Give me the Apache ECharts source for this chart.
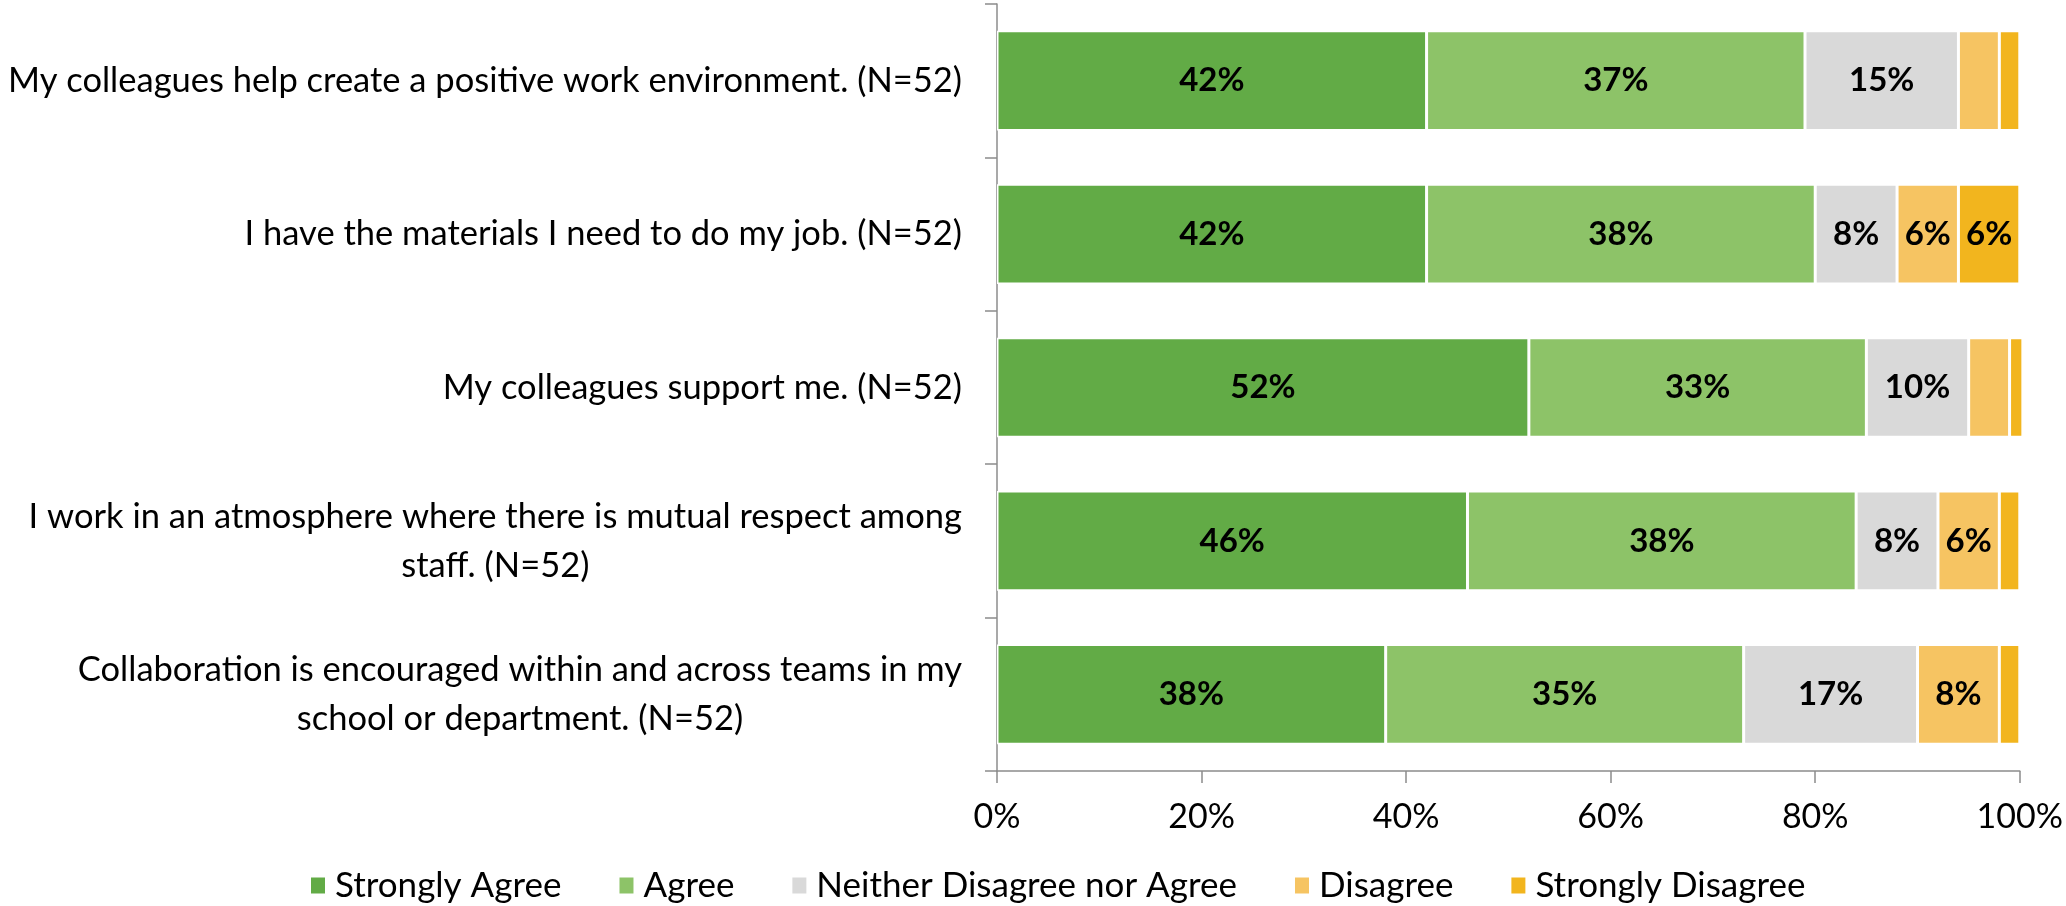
<!DOCTYPE html>
<html>
<head>
<meta charset="utf-8">
<script src="https://cdn.jsdelivr.net/npm/echarts@6/dist/echarts.min.js"></script>
<style>
html,body{margin:0;padding:0;background:#fff;}
#chart{width:2066px;height:906px;}
</style>
</head>
<body>
<div id="chart"></div>
<script>
const categories = [
  "My colleagues help create a positive work environment. (N=52)",
  "I have the materials I need to do my job. (N=52)",
  "My colleagues support me. (N=52)",
  "I work in an atmosphere where there is mutual respect among\nstaff. (N=52)",
  "Collaboration is encouraged within and across teams in my\nschool or department. (N=52)"
];
const seriesNames = ["Strongly Agree", "Agree", "Neither Disagree nor Agree", "Disagree", "Strongly Disagree"];
const stronglyAgree = [42, 42, 52, 46, 38];
const agree = [37, 38, 33, 38, 35];
const neither = [15, 8, 10, 8, 17];
const disagree = [4, 6, 4, 6, 8];
const stronglyDisagree = [2, 6, 1.3, 2, 2];
const xTicks = [0, 20, 40, 60, 80, 100];

const colors = ["#62AB46", "#8DC368", "#D9D9D9", "#F6C462", "#F2B51E"];
const values = [stronglyAgree, agree, neither, disagree, stronglyDisagree];
const FONT = "Lato, 'Open Sans', sans-serif";
const axisColor = "#8C8C8C";

const chart = echarts.init(document.getElementById('chart'));
chart.setOption({
  animation: false,
  color: colors,
  textStyle: { fontFamily: FONT },
  grid: { left: 997, right: 42, top: 4, bottom: 135, containLabel: false },
  legend: {
    data: seriesNames,
    top: 863,
    left: 304,
    icon: 'rect',
    itemWidth: 16,
    itemHeight: 18,
    itemGap: 56,
    textStyle: { fontFamily: FONT, fontSize: 35, color: '#000', padding: [0, 0, 0, 4] }
  },
  xAxis: {
    type: 'value',
    min: xTicks[0],
    max: xTicks[xTicks.length - 1],
    interval: xTicks[1] - xTicks[0],
    splitLine: { show: false },
    axisLine: { show: true, lineStyle: { color: axisColor, width: 1.5 } },
    axisTick: { show: true, length: 12, lineStyle: { color: axisColor, width: 1.5 } },
    axisLabel: { formatter: '{value}%', fontFamily: FONT, fontSize: 34, color: '#000', margin: 29 }
  },
  yAxis: {
    type: 'category',
    data: categories,
    inverse: true,
    axisLine: { show: true, lineStyle: { color: axisColor, width: 1.5 } },
    axisTick: { show: true, length: 12, lineStyle: { color: axisColor, width: 1.5 } },
    axisLabel: {
      margin: 35,
      color: '#000',
      formatter: function (v) {
        return v.split('\n').map(l => '{c|' + l + '}').join('\n');
      },
      rich: { c: { fontFamily: FONT, fontSize: 34.5, color: '#000', lineHeight: 49, align: 'center' } }
    }
  },
  series: seriesNames.map((name, i) => ({
    name: name,
    type: 'bar',
    stack: 'total',
    clip: false,
    barCategoryGap: '35%',
    data: values[i],
    itemStyle: { color: colors[i], borderColor: '#fff', borderWidth: 1.5 },
    label: {
      show: true,
      position: 'inside',
      fontFamily: FONT,
      fontWeight: 'bold',
      fontSize: 33,
      color: '#000',
      formatter: p => (p.value >= 5 ? Math.round(p.value) + '%' : '')
    }
  }))
});
</script>
</body>
</html>
